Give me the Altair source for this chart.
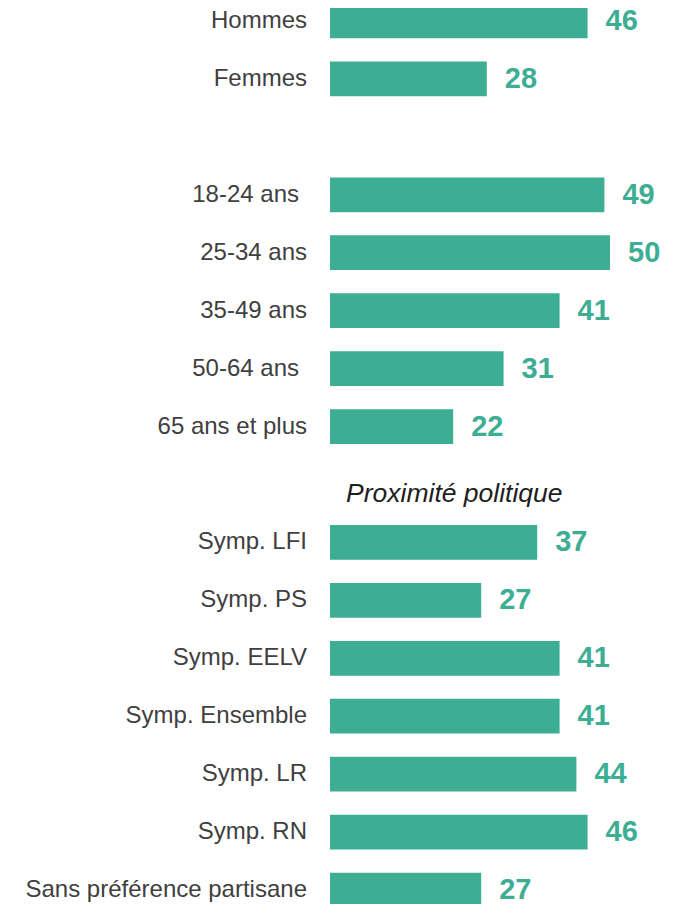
import altair as alt
import pandas as pd

categories = ["Hommes", "Femmes", "18-24 ans ", "25-34 ans", "35-49 ans", "50-64 ans ",
              "65 ans et plus", "Symp. LFI", "Symp. PS", "Symp. EELV", "Symp. Ensemble",
              "Symp. LR", "Symp. RN", "Sans préférence partisane"]
values = [46, 28, 49, 50, 41, 31, 22, 37, 27, 41, 41, 44, 46, 27]
header = "Proximité politique"
row_order = ["Hommes", "Femmes", "", "18-24 ans ", "25-34 ans", "35-49 ans", "50-64 ans ",
             "65 ans et plus", header, "Symp. LFI", "Symp. PS", "Symp. EELV",
             "Symp. Ensemble", "Symp. LR", "Symp. RN", "Sans préférence partisane"]

GREEN = "#3DAE94"
df = pd.DataFrame({"cat": categories, "val": values})
hdf = pd.DataFrame({"cat": [header]})

y = alt.Y("cat:N", sort=row_order,
          scale=alt.Scale(domain=row_order, range=[-16, 911], paddingInner=0.4, paddingOuter=0.2),
          axis=None)
x = alt.X("val:Q", scale=alt.Scale(domain=[0, 59.7]), axis=None)

trailing = "slice(datum.cat, -1) == ' '"

bars = alt.Chart(df).mark_bar(color=GREEN).encode(x=x, y=y)
vals = alt.Chart(df).mark_text(align="left", baseline="middle", dx=18, font="Liberation Sans",
                               fontWeight="bold", fontSize=29, color=GREEN).encode(
    x=x, y=y, text="val:Q")
label_style = dict(align="right", baseline="middle", font="Liberation Sans",
                   fontSize=24, color="#404040")
labels = alt.Chart(df).transform_filter("!(" + trailing + ")").mark_text(
    dx=-23, **label_style).encode(x=alt.datum(0), y=y, text="cat:N")
labels_sp = alt.Chart(df).transform_filter(trailing).mark_text(
    dx=-31, **label_style).encode(x=alt.datum(0), y=y, text="cat:N")
head = alt.Chart(hdf).mark_text(align="center", baseline="middle", dy=10, font="Liberation Sans",
                                fontSize=26.5, fontStyle="italic", color="#1e1e1e").encode(
    x=alt.datum(22.2), y=y, text="cat:N")

chart = alt.layer(bars, vals, labels, labels_sp, head).properties(
    width=336, height=896,
    autosize=alt.AutoSizeParams(type="none"),
    padding={"left": 322, "top": 0, "right": 0, "bottom": 0},
).configure_view(stroke=None)

chart.save("out.html", embed_options={"renderer": "svg", "actions": False})
